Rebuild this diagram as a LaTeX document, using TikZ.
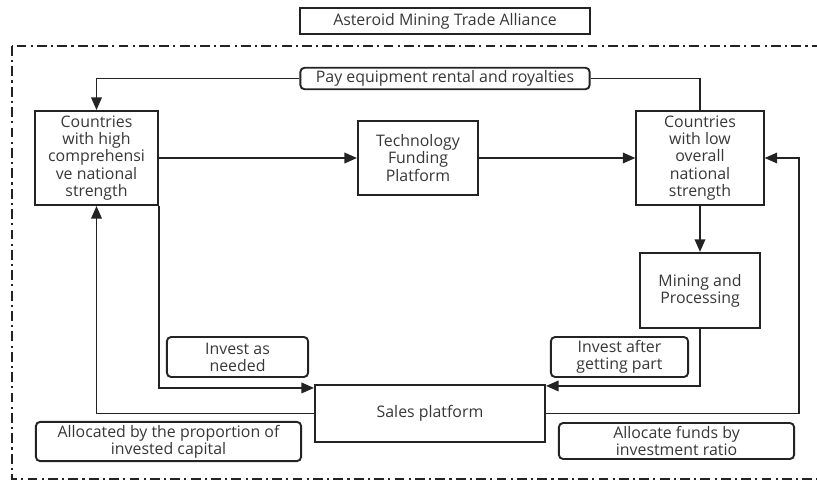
\documentclass[tikz,border=0pt]{standalone}
\usepackage{fontspec}
\setmainfont{Open Sans}
\usetikzlibrary{arrows.meta,positioning}
\definecolor{inkline}{RGB}{35,35,35}
\definecolor{inktext}{RGB}{55,55,55}

\begin{document}
\begin{tikzpicture}[
    x=0.025cm,y=-0.025cm,
    box/.style={draw=inkline,line width=1.35pt,text=inktext,align=center,
      font=\fontsize{11.3}{12.2}\selectfont,inner sep=2pt},
    note/.style={box,rounded corners=3pt},
    arrow/.style={draw=inkline,line width=1.35pt,-{Triangle[length=9pt,width=7.5pt]}},
    link/.style={draw=inkline,line width=1.35pt},
    frame/.style={draw=inkline,line width=1.35pt,
      dash pattern=on 7pt off 3pt on 1.5pt off 3pt}
  ]
  \useasboundingbox (0,0) rectangle (817,481);

  % alliance frame
  \node[box,minimum width=7.23cm,minimum height=0.63cm] (title) at (445,21)
    {Asteroid Mining Trade Alliance};
  \draw[frame] (12,46) rectangle (830,479);

  % members
  \node[box,minimum width=3.08cm,minimum height=2.35cm] (high) at (96.5,158)
    {Countries\\with high\\comprehensi\\ve national\\strength};
  \node[box,minimum width=3.0cm,minimum height=1.85cm] (tech) at (418,158)
    {Technology\\Funding\\Platform};
  \node[box,minimum width=3.18cm,minimum height=2.35cm] (low) at (700,158)
    {Countries\\with low\\overall\\national\\strength};
  \node[box,minimum width=3.0cm,minimum height=1.88cm] (mining) at (700,290.5)
    {Mining and\\Processing};
  \node[box,minimum width=5.75cm,minimum height=1.43cm] (sales) at (430,413.5)
    {Sales platform};

  % labels
  \node[note,minimum width=7.23cm,minimum height=0.53cm] (pay) at (445,78.5)
    {Pay equipment rental and royalties};
  \node[note,minimum width=3.53cm,minimum height=1.0cm] (needed) at (237.5,357)
    {Invest as\\needed};
  \node[note,minimum width=3.43cm,minimum height=1.0cm] (after) at (619.5,357)
    {Invest after\\getting part};
  \node[note,minimum width=6.63cm,minimum height=0.98cm] (propn) at (168.5,441.5)
    {Allocated by the proportion of\\invested capital};
  \node[note,minimum width=5.88cm,minimum height=0.9cm] (ratio) at (676.5,441)
    {Allocate funds by\\investment ratio};

  % flows
  \coordinate (rturn) at (799,158);
  \draw[link] (low.north) |- (pay.east);
  \draw[arrow] (pay.west) -| (high.north);
  \draw[arrow] (high) -- (tech);
  \draw[arrow] (tech) -- (low);
  \draw[arrow] (low) -- (mining);
  \draw[arrow] (high.south east) |- ([yshift=-0.1cm]sales.north west);
  \draw[arrow] (mining.south) |- ([yshift=-0.05cm]sales.north east);
  \draw[arrow] (sales.west) -| (high.south);
  \draw[arrow] (sales.east) -| (rturn) -- (low.east);
\end{tikzpicture}
\end{document}
